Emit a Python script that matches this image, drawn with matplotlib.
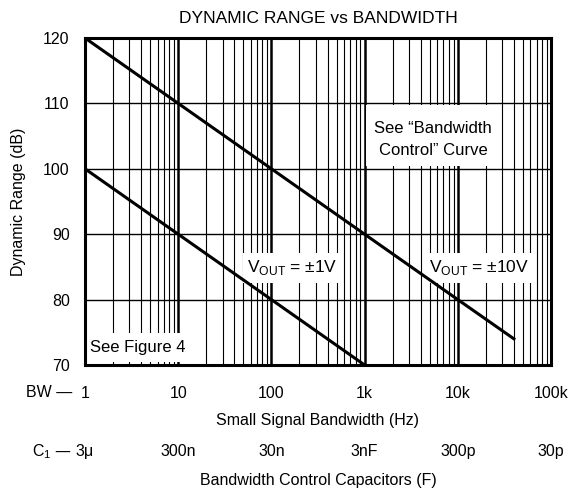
import matplotlib
matplotlib.use('Agg')
import matplotlib.pyplot as plt
import matplotlib.transforms as mtransforms
from matplotlib.patches import Rectangle
from matplotlib.ticker import LogLocator, NullFormatter

plt.rcParams['font.family'] = ['Liberation Sans', 'DejaVu Sans']

# data
bw_10v = [1, 10, 100, 1000, 10000, 40000]
dr_10v = [120, 110, 100, 90, 80, 74]
bw_1v = [1, 10, 100, 1000]
dr_1v = [100, 90, 80, 70]

bw_ticks = [1, 10, 100, 1000, 10000, 100000]
bw_labels = ['1', '10', '100', '1k', '10k', '100k']
cap_labels = ['3\u03bc', '300n', '30n', '3nF', '300p', '30p']

fig = plt.figure(figsize=(5.82, 4.91), dpi=100)
ax = fig.add_axes([85 / 582, 1 - 365 / 491, 466 / 582, 327 / 491])

ax.plot(bw_10v, dr_10v, color='black', lw=2.2, zorder=3)
ax.plot(bw_1v, dr_1v, color='black', lw=2.2, zorder=3)

ax.set_xscale('log')
ax.set_xlim(1, 100000)
ax.set_ylim(70, 120)
ax.set_xticks(bw_ticks)
ax.set_xticklabels(bw_labels)
ax.xaxis.set_minor_locator(LogLocator(base=10, subs=range(2, 10), numticks=20))
ax.xaxis.set_minor_formatter(NullFormatter())
ax.set_yticks([70, 80, 90, 100, 110, 120])
ax.tick_params(which='both', length=0, labelsize=11.5)
ax.tick_params(axis='x', pad=15)
ax.tick_params(axis='y', pad=11)

ax.grid(which='major', axis='x', color='black', lw=1.8)
ax.grid(which='minor', axis='x', color='black', lw=0.8)
ax.grid(which='major', axis='y', color='black', lw=1.0)
ax.set_axisbelow(True)
for s in ax.spines.values():
    s.set_linewidth(2.2)
    s.set_zorder(5)

ax.set_title('DYNAMIC RANGE vs BANDWIDTH', fontsize=12.5, pad=11)
ax.set_ylabel('Dynamic Range (dB)', fontsize=11.5, labelpad=12)
ax.set_xlabel('Small Signal Bandwidth (Hz)', fontsize=11.5, labelpad=9)

# white label boxes that hide the grid
def white_box(x0, x1, y0, y1):
    ax.add_patch(Rectangle((x0, y0), x1 - x0, y1 - y0, facecolor='white',
                           edgecolor='none', zorder=1))

white_box(10 ** 3.02, 10 ** 4.45, 100.4, 109.8)
white_box(10 ** 1.70, 10 ** 2.74, 82.5, 87.2)
white_box(10 ** 3.67, 10 ** 4.81, 82.5, 87.2)
white_box(1, 10 ** 1.15, 70.4, 74.9)

ax.text(5430, 104.5, 'See \u201cBandwidth\nControl\u201d Curve', fontsize=12,
        ha='center', va='center', zorder=4, linespacing=1.55)
ax.text(168, 84.9, 'V$_{\\mathregular{OUT}}$ = \u00b11V',
        fontsize=12.5, ha='center', va='center', zorder=4)
ax.text(17000, 84.9, 'V$_{\\mathregular{OUT}}$ = \u00b110V',
        fontsize=12.5, ha='center', va='center', zorder=4)
ax.text(1.13, 72.6, 'See Figure 4', fontsize=12, ha='left', va='center', zorder=4)

trans = mtransforms.blended_transform_factory(ax.transData, ax.transAxes)
ax.text(0.725, -0.083, 'BW \u2014', transform=trans, ha='right', va='center',
        fontsize=11.5)
for x, lab in zip(bw_ticks, cap_labels):
    ax.text(x, -0.266, lab, transform=trans, ha='center', va='center', fontsize=11.5)
ax.text(0.725, -0.266, 'C$_{\\mathregular{1}}$ \u2014', transform=trans, ha='right',
        va='center', fontsize=11.5)
ax.text(0.5, -0.352, 'Bandwidth Control Capacitors (F)', transform=ax.transAxes,
        ha='center', va='center', fontsize=11.5)

fig.savefig('out.png', dpi=100)
